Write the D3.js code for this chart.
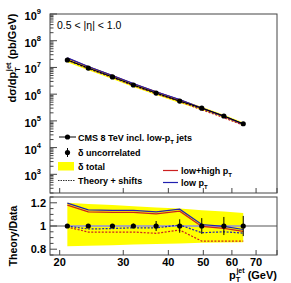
<!DOCTYPE html>
<html>
<head>
<meta charset="utf-8">
<script src="https://cdn.jsdelivr.net/npm/d3@7"></script>
<style>
  body { margin: 0; background: #fff; }
  text { font-family: "Liberation Sans", Arial, sans-serif; }
</style>
</head>
<body>
<script>
"use strict";

// Data

const ptBins = [21, 24, 28, 32, 37, 43, 49.5, 57, 64.5];
const xsec = [1.9e7, 9.5e6, 4.4e6, 2.2e6, 1.1e6, 5.5e5, 3.0e5, 1.52e5, 7.8e4];
const errUncorr = [0.01, 0.012, 0.015, 0.02, 0.043, 0.058, 0.068, 0.078, 0.087];
const totalHi = [1.2, 1.19, 1.18, 1.17, 1.16, 1.15, 1.135, 1.125, 1.113];
const totalLo = [0.826, 0.83, 0.835, 0.84, 0.845, 0.85, 0.855, 0.857, 0.86];
const ratioLow = [1.197, 1.139, 1.135, 1.135, 1.122, 1.145, 1.013, 0.996, 0.97];
const ratioLowHigh = [1.18, 1.122, 1.118, 1.118, 1.105, 1.128, 0.996, 0.979, 0.953];
const shiftLow = [1.0, 0.974, 0.978, 0.985, 0.983, 1.009, 0.942, 0.95, 0.939];
const shiftLowHigh = [0.991, 0.948, 0.948, 0.948, 0.937, 0.965, 0.87, 0.87, 0.87];
const xTickLabels = [20, 30, 40, 50, 60, 70];
const yDecades = [3, 4, 5, 6, 7, 8, 9];
const ratioTicks = [0.8, 1, 1.2];

// Size parameters

const W = 291, H = 283;
const left = 50, right = 277;
const topY0 = 14, topY1 = 193;
const ratY0 = 197, ratY1 = 255;
const frameColor = "#444";
const red = "#cc2020", blue = "#2020b0";

const svg = d3.select("body").append("svg")
  .attr("width", W).attr("height", H);

const x = d3.scaleLog().domain([18.8, 80]).range([left, right]);
const y = d3.scaleLog().domain([200, 1e9]).range([topY1, topY0]);
const yr = d3.scaleLinear().domain([0.75, 1.25]).range([ratY1, ratY0]);

const rows = ptBins.map((pt, i) => ({
  pt, v: xsec[i], e: errUncorr[i], hi: totalHi[i], lo: totalLo[i],
  rl: ratioLow[i], rlh: ratioLowHigh[i], sl: shiftLow[i], slh: shiftLowHigh[i]
}));

/***************
 * Main panel *
 ***************/

const main = svg.append("g");

main.append("path")
  .datum(rows)
  .attr("fill", "#ffff00")
  .attr("d", d3.area().x(d => x(d.pt)).y0(d => y(d.v * d.lo)).y1(d => y(d.v * d.hi)));

const mainLine = (key, color, dash) => main.append("path")
  .datum(rows)
  .attr("fill", "none")
  .attr("stroke", color)
  .attr("stroke-width", 1.2)
  .attr("stroke-dasharray", dash)
  .attr("d", d3.line().x(d => x(d.pt)).y(d => y(d.v * d[key])));

mainLine("slh", red, "2,1.5");
mainLine("sl", blue, "2,1.5");
mainLine("rlh", red, null);
mainLine("rl", blue, null);

main.append("path")
  .datum(rows)
  .attr("fill", "none")
  .attr("stroke", "#000")
  .attr("stroke-width", 1)
  .attr("d", d3.line().x(d => x(d.pt)).y(d => y(d.v)));

main.selectAll("circle.pt")
  .data(rows)
  .enter()
  .append("circle")
  .attr("cx", d => x(d.pt))
  .attr("cy", d => y(d.v))
  .attr("r", 2.6)
  .attr("fill", "#000");

// frame
svg.append("rect")
  .attr("x", left).attr("y", topY0)
  .attr("width", right - left).attr("height", topY1 - topY0)
  .attr("fill", "none").attr("stroke", frameColor).attr("stroke-width", 1);

// y ticks, major and minor (log)
yDecades.concat([2]).forEach(p => {
  for (let m = 1; m <= 9; m++) {
    const v = m * Math.pow(10, p);
    if (v < 200 || v > 1e9) continue;
    const len = m === 1 ? 7 : 3.5;
    svg.append("line")
      .attr("x1", left).attr("x2", left + len)
      .attr("y1", y(v)).attr("y2", y(v))
      .attr("stroke", frameColor);
  }
});

yDecades.forEach(p => {
  const t = svg.append("text")
    .attr("x", 41).attr("y", y(Math.pow(10, p)) + 6)
    .attr("text-anchor", "end")
    .attr("font-size", 11).attr("font-weight", "bold");
  t.append("tspan").text("10");
  t.append("tspan").attr("dy", -6).attr("font-size", 7.5).text(p);
});

// x ticks on main panel bottom
const xAllTicks = [20, 30, 40, 50, 60, 70, 80];
xAllTicks.forEach(v => {
  svg.append("line")
    .attr("x1", x(v)).attr("x2", x(v))
    .attr("y1", topY1).attr("y2", topY1 - 5)
    .attr("stroke", frameColor);
});

// y title
const yt = svg.append("text")
  .attr("transform", `translate(16,${topY0 + 44}) rotate(-90)`)
  .attr("text-anchor", "middle")
  .attr("font-size", 11).attr("font-weight", "bold");
yt.append("tspan").text("dσ/dp");
yt.append("tspan").attr("dy", 3.5).attr("font-size", 7.5).text("T");
yt.append("tspan").attr("dx", -4).attr("dy", -9).attr("font-size", 7.5).text("jet");
yt.append("tspan").attr("dy", 5.5).text(" (pb/GeV)");

// eta label
svg.append("text")
  .attr("x", 57).attr("y", 29)
  .attr("font-size", 10.5)
  .text("0.5 < |η| < 1.0");

/**********
 * Legend *
 **********/

const lg = svg.append("g").attr("font-size", 9).attr("font-weight", "bold");

// CMS data
lg.append("line").attr("x1", 59).attr("x2", 76).attr("y1", 137).attr("y2", 137)
  .attr("stroke", "#000");
lg.append("circle").attr("cx", 67.5).attr("cy", 137).attr("r", 2.6).attr("fill", "#000");
const l1 = lg.append("text").attr("x", 78).attr("y", 140.5);
l1.append("tspan").text("CMS 8 TeV incl. low-p");
l1.append("tspan").attr("dy", 3).attr("font-size", 6).text("T");
l1.append("tspan").attr("dy", -3).text(" jets");

// uncorrelated
lg.append("line").attr("x1", 67.5).attr("x2", 67.5).attr("y1", 148).attr("y2", 157)
  .attr("stroke", "#000");
lg.append("circle").attr("cx", 67.5).attr("cy", 152.5).attr("r", 2.6).attr("fill", "#000");
lg.append("text").attr("x", 78).attr("y", 156).text("δ uncorrelated");

// total
lg.append("rect").attr("x", 58).attr("y", 162).attr("width", 16).attr("height", 8.5)
  .attr("fill", "#ffff00");
lg.append("text").attr("x", 78).attr("y", 170).text("δ total");

// shifts
lg.append("line").attr("x1", 58).attr("x2", 75).attr("y1", 180.5).attr("y2", 180.5)
  .attr("stroke", "#333").attr("stroke-dasharray", "1.5,1");
lg.append("text").attr("x", 78).attr("y", 184).text("Theory + shifts");

// right side
lg.append("line").attr("x1", 163).attr("x2", 178).attr("y1", 170.5).attr("y2", 170.5)
  .attr("stroke", red).attr("stroke-width", 1.2);
const l5 = lg.append("text").attr("x", 181).attr("y", 174);
l5.append("tspan").text("low+high p");
l5.append("tspan").attr("dy", 3).attr("font-size", 6).text("T");
lg.append("line").attr("x1", 163).attr("x2", 178).attr("y1", 182.5).attr("y2", 182.5)
  .attr("stroke", blue).attr("stroke-width", 1.2);
const l6 = lg.append("text").attr("x", 181).attr("y", 186);
l6.append("tspan").text("low p");
l6.append("tspan").attr("dy", 3).attr("font-size", 6).text("T");

/****************
 * Ratio panel *
 ****************/

const rat = svg.append("g");

rat.append("path")
  .datum(rows)
  .attr("fill", "#ffff00")
  .attr("d", d3.area().x(d => x(d.pt)).y0(d => yr(d.lo)).y1(d => yr(d.hi)));

rat.append("line")
  .attr("x1", left).attr("x2", right)
  .attr("y1", yr(1)).attr("y2", yr(1))
  .attr("stroke", "#aaa").attr("stroke-width", 2);

const ratioLine = (key, color, dash) => rat.append("path")
  .datum(rows)
  .attr("fill", "none")
  .attr("stroke", color)
  .attr("stroke-width", 1.2)
  .attr("stroke-dasharray", dash)
  .attr("d", d3.line().x(d => x(d.pt)).y(d => yr(d[key])));

ratioLine("slh", red, "2,1.5");
ratioLine("sl", blue, "2,1.5");
ratioLine("rlh", red, null);
ratioLine("rl", blue, null);

rat.selectAll("line.err")
  .data(rows)
  .enter()
  .append("line")
  .attr("x1", d => x(d.pt)).attr("x2", d => x(d.pt))
  .attr("y1", d => yr(1 - d.e)).attr("y2", d => yr(1 + d.e))
  .attr("stroke", "#000");

rat.selectAll("circle.pt")
  .data(rows)
  .enter()
  .append("circle")
  .attr("cx", d => x(d.pt))
  .attr("cy", yr(1))
  .attr("r", 2.6)
  .attr("fill", "#000");

svg.append("rect")
  .attr("x", left).attr("y", ratY0)
  .attr("width", right - left).attr("height", ratY1 - ratY0)
  .attr("fill", "none").attr("stroke", frameColor).attr("stroke-width", 1);

// ratio y ticks
d3.range(0.75, 1.2501, 0.05).forEach(v => {
  const major = ratioTicks.some(t => Math.abs(t - v) < 1e-6);
  svg.append("line")
    .attr("x1", left).attr("x2", left + (major ? 7 : 3.5))
    .attr("y1", yr(v)).attr("y2", yr(v))
    .attr("stroke", frameColor);
});

svg.selectAll("text.rtick")
  .data(ratioTicks)
  .enter()
  .append("text")
  .attr("x", 46).attr("y", d => yr(d) + 4)
  .attr("text-anchor", "end")
  .attr("font-size", 11).attr("font-weight", "bold")
  .text(d => d3.format("~g")(d));

// ratio x ticks
xAllTicks.forEach(v => {
  svg.append("line")
    .attr("x1", x(v)).attr("x2", x(v))
    .attr("y1", ratY1).attr("y2", ratY1 - 5)
    .attr("stroke", frameColor);
});

svg.selectAll("text.xtick")
  .data(xTickLabels)
  .enter()
  .append("text")
  .attr("x", d => x(d)).attr("y", 266)
  .attr("text-anchor", "middle")
  .attr("font-size", 11).attr("font-weight", "bold")
  .text(d => d);

// ratio y title
svg.append("text")
  .attr("transform", `translate(17,${(ratY0 + ratY1) / 2 + 10}) rotate(-90)`)
  .attr("text-anchor", "middle")
  .attr("font-size", 10.5).attr("font-weight", "bold")
  .text("Theory/Data");

// x title
const xt = svg.append("text")
  .attr("x", 277).attr("y", 279)
  .attr("text-anchor", "end")
  .attr("font-size", 11).attr("font-weight", "bold");
xt.append("tspan").text("p");
xt.append("tspan").attr("dy", 3).attr("font-size", 7.5).text("T");
xt.append("tspan").attr("dx", -4).attr("dy", -9.5).attr("font-size", 7).text("jet");
xt.append("tspan").attr("dy", 6.5).text(" (GeV)");
</script>
</body>
</html>
